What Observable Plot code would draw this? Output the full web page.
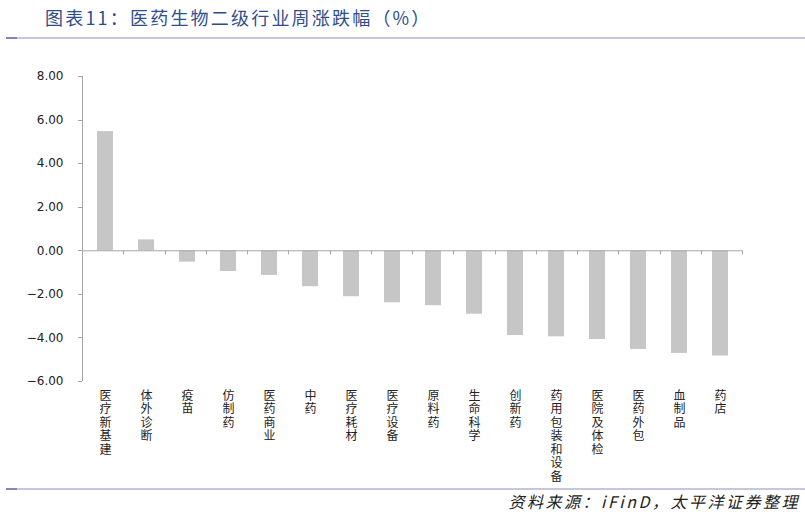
<!DOCTYPE html>
<html>
<head>
<meta charset="utf-8">
<script src="https://cdn.jsdelivr.net/npm/d3@7"></script>
<script src="https://cdn.jsdelivr.net/npm/@observablehq/plot@0.6"></script>
<style>
  html, body { margin: 0; padding: 0; background: #fff; }
  #page { position: relative; width: 805px; height: 516px; overflow: hidden; background: #fff; }
  #title { position: absolute; left: 45px; top: 4px; font-family: "Noto Sans CJK SC", sans-serif; font-size: 18px; letter-spacing: 2.2px; color: #2d4e8c; white-space: nowrap; }
  .hline { position: absolute; left: 6px; right: 0; height: 2px; background: linear-gradient(to right, #8585bb 0, #8585bb 11px, #c6c6e2 11px); }
  #source { position: absolute; right: 5px; top: 489px; font-family: "Noto Sans CJK SC", sans-serif; font-size: 16px; font-style: italic; letter-spacing: 2.5px; color: #222; white-space: nowrap; }
  #chart { position: absolute; left: 0; top: 0; }
</style>
</head>
<body>
<div id="page">
  <div id="title"></div>
  <div class="hline" style="top:37px"></div>
  <div id="chart"></div>
  <div class="hline" style="top:488px"></div>
  <div id="source"></div>
</div>
<script>
const titleText = "图表11：医药生物二级行业周涨跌幅（%）";
const sourceText = "资料来源：iFinD，太平洋证券整理";

const categories = ["医疗新基建", "体外诊断", "疫苗", "仿制药", "医药商业", "中药", "医疗耗材", "医疗设备", "原料药", "生命科学", "创新药", "药用包装和设备", "医院及体检", "医药外包", "血制品", "药店"];
const values = [5.47, 0.50, -0.52, -0.95, -1.13, -1.65, -2.11, -2.39, -2.52, -2.91, -3.89, -3.95, -4.07, -4.53, -4.71, -4.83];
const yTicks = [-6, -4, -2, 0, 2, 4, 6, 8];

document.getElementById("title").textContent = titleText;
document.getElementById("source").textContent = sourceText;

const data = categories.map((name, i) => ({name, value: values[i]}));
const axisColor = "#a6a6a6";

// axis lines and tick marks drawn from the plot's own scales
function axes(index, scales, values, dims) {
  const g = d3.create("svg:g").attr("stroke", axisColor).attr("fill", "none");
  const left = dims.marginLeft, right = dims.width - dims.marginRight;
  const y0 = scales.y(0);
  const yTop = scales.y(d3.max(yTicks)), yBot = scales.y(d3.min(yTicks));
  g.append("line").attr("x1", left + 0.5).attr("x2", left + 0.5).attr("y1", yTop).attr("y2", yBot);
  for (const t of yTicks) {
    const yy = Math.round(scales.y(t)) + 0.5;
    g.append("line").attr("x1", left - 4).attr("x2", left).attr("y1", yy).attr("y2", yy);
  }
  const n = categories.length;
  const step = (right - left) / n;
  for (let i = 1; i <= n; i++) {
    const xx = Math.round(left + i * step) + 0.5;
    g.append("line").attr("x1", xx).attr("x2", xx).attr("y1", y0).attr("y2", y0 + 4);
  }
  return g.node();
}

const chart = Plot.plot({
  width: 805,
  height: 516,
  marginLeft: 82,
  marginRight: 63,
  marginTop: 76,
  marginBottom: 135,
  style: { fontFamily: "'DejaVu Sans', sans-serif", background: "transparent", color: "#222" },
  x: { domain: categories, paddingInner: 0.61, paddingOuter: 0.305, axis: null, label: null },
  y: { domain: [-6, 8], axis: null, label: null },
  marks: [
    Plot.barY(data, { x: "name", y: "value", fill: "#c6c6c6" }),
    Plot.ruleY([0], { stroke: axisColor }),
    axes,
    Plot.axisY({ ticks: yTicks, tickFormat: d3.format(".2f"), tickSize: 0, tickPadding: 19, fontSize: 12, fill: "#222", label: null }),
    Plot.axisX({ tickSize: 0, tickPadding: 9, tickFormat: d => d.split("").join("\n"), lineHeight: 1.12, fontSize: 12, fontFamily: "'Noto Sans CJK SC', sans-serif", fill: "#222", label: null })
  ]
});
document.getElementById("chart").appendChild(chart);
</script>
</body>
</html>
